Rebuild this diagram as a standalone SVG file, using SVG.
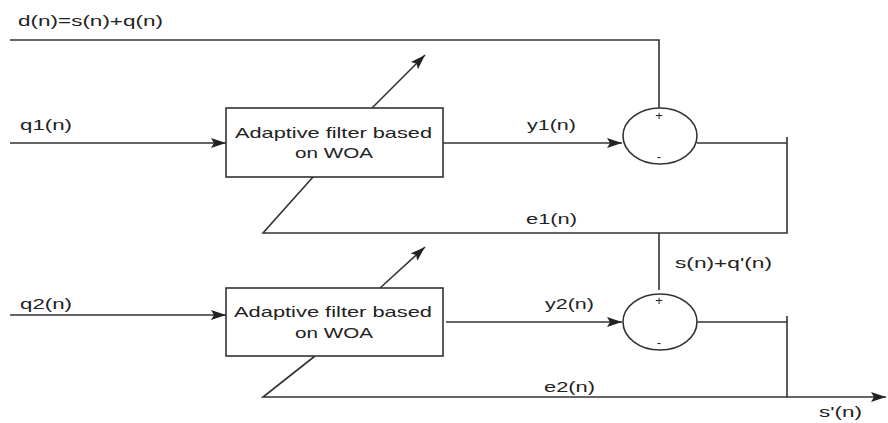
<svg xmlns="http://www.w3.org/2000/svg" width="888" height="423" viewBox="0 0 888 423">
<style>
  .ln { fill: none; stroke: #333; stroke-width: 1.6; }
  .box { fill: #fff; stroke: #333; stroke-width: 1.6; }
  .t { font-family: "Liberation Sans", Arial, sans-serif; font-size: 15px; fill: #222; }
  .c { text-anchor: middle; }
  .s { font-family: "Liberation Sans", Arial, sans-serif; font-size: 13px; fill: #222; text-anchor: middle; }
</style>
<defs>
  <marker id="arr" markerUnits="userSpaceOnUse" markerWidth="16" markerHeight="11" refX="15" refY="5" orient="auto">
    <path d="M0,0 L15,5 L0,10 L3,5 z" fill="#222"/>
  </marker>
</defs>
<rect width="888" height="423" fill="#fff"/>
<g id="connectors">
  <path class="ln" d="M10,40 H659 V108"/>
  <path class="ln" d="M10,143 H226" marker-end="url(#arr)"/>
  <path class="ln" d="M443,143 H622" marker-end="url(#arr)"/>
  <path class="ln" d="M697,143 H787"/>
  <path class="ln" d="M787,137 V233 H263 L313,177"/>
  <path class="ln" d="M372,108 L425,55" marker-end="url(#arr)"/>
  <path class="ln" d="M659,233 V290"/>
  <path class="ln" d="M10,315 H226" marker-end="url(#arr)"/>
  <path class="ln" d="M446,322 H622" marker-end="url(#arr)"/>
  <path class="ln" d="M697,322 H787"/>
  <path class="ln" d="M787,316 V397"/>
  <path class="ln" d="M315,356 L263,397 H886" marker-end="url(#arr)"/>
  <path class="ln" d="M380,288 L425,247" marker-end="url(#arr)"/>
  <text class="t" x="18" y="26" textLength="145" lengthAdjust="spacingAndGlyphs">d(n)=s(n)+q(n)</text>
  <text class="t" x="20" y="130" textLength="52" lengthAdjust="spacingAndGlyphs">q1(n)</text>
  <text class="t" x="527" y="130" textLength="49" lengthAdjust="spacingAndGlyphs">y1(n)</text>
  <text class="t" x="526" y="224" textLength="51" lengthAdjust="spacingAndGlyphs">e1(n)</text>
  <text class="t" x="675" y="268" textLength="97" lengthAdjust="spacingAndGlyphs">s(n)+q'(n)</text>
  <text class="t" x="20" y="309" textLength="52" lengthAdjust="spacingAndGlyphs">q2(n)</text>
  <text class="t" x="545" y="309" textLength="49" lengthAdjust="spacingAndGlyphs">y2(n)</text>
  <text class="t" x="544" y="392" textLength="51" lengthAdjust="spacingAndGlyphs">e2(n)</text>
  <text class="t" x="819" y="417" textLength="43" lengthAdjust="spacingAndGlyphs">s'(n)</text>
</g>
<g id="filter1">
  <rect class="box" x="226" y="108" width="217" height="69"/>
  <text class="t" x="235" y="138" textLength="197" lengthAdjust="spacingAndGlyphs">Adaptive filter based</text>
  <text class="t" x="295" y="158" textLength="78" lengthAdjust="spacingAndGlyphs">on WOA</text>
</g>
<g id="filter2">
  <rect class="box" x="226" y="288" width="217" height="68"/>
  <text class="t" x="234" y="317" textLength="198" lengthAdjust="spacingAndGlyphs">Adaptive filter based</text>
  <text class="t" x="295" y="338" textLength="78" lengthAdjust="spacingAndGlyphs">on WOA</text>
</g>
<g id="sum1">
  <ellipse class="box" cx="660" cy="136" rx="37" ry="28"/>
  <text class="s" x="659" y="120">+</text>
  <text class="s" x="659" y="161">-</text>
</g>
<g id="sum2">
  <ellipse class="box" cx="660" cy="322" rx="37" ry="28"/>
  <text class="s" x="659" y="305">+</text>
  <text class="s" x="659" y="347">-</text>
</g>
</svg>
